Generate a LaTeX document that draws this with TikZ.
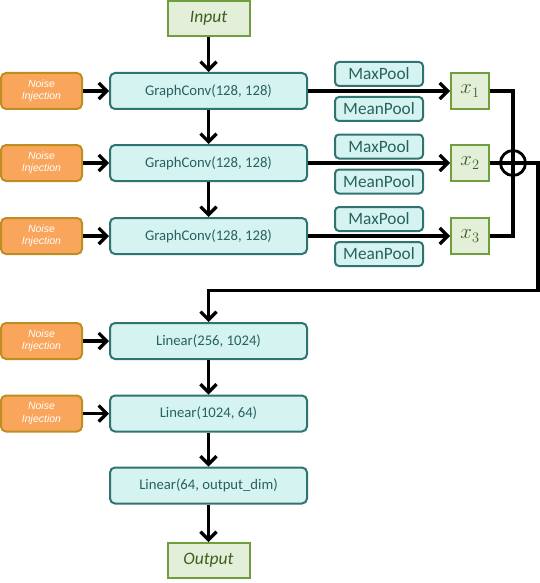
\documentclass[tikz,border=0pt]{standalone}
\usepackage{fontspec}
\setmainfont{Carlito}
\newfontfamily\noisefont{Liberation Sans}
\usetikzlibrary{arrows.meta}
\definecolor{tealfill}{HTML}{D5F3F1}
\definecolor{tealdraw}{HTML}{2F7470}
\definecolor{tealtext}{HTML}{27625E}
\definecolor{orfill}{HTML}{F9A55B}
\definecolor{ordraw}{HTML}{BF8E22}
\definecolor{grfill}{HTML}{E3EFD9}
\definecolor{grdraw}{HTML}{6E9F3C}
\definecolor{grtext}{HTML}{3E5F22}
\begin{document}
\begin{tikzpicture}[x=1pt,y=-1pt,
 layer/.style={draw=tealdraw, fill=tealfill, line width=2pt, rounded corners=5pt, minimum width=197pt, minimum height=36pt, inner sep=0pt, text=tealtext, font=\fontsize{14.7}{16}\selectfont},
 pool/.style={draw=tealdraw, fill=tealfill, line width=2pt, rounded corners=4pt, minimum width=88pt, minimum height=24pt, inner sep=0pt, text=tealtext, font=\fontsize{17.3}{19}\selectfont},
 noise/.style={draw=ordraw, fill=orfill, line width=2pt, rounded corners=5pt, minimum width=81pt, minimum height=36pt, inner sep=0pt, text=white, align=center, font=\noisefont\itshape\fontsize{10.5}{12.5}\selectfont},
 io/.style={draw=grdraw, fill=grfill, line width=2pt, minimum width=82pt, minimum height=35pt, inner sep=0pt, text=grtext, font=\itshape\fontsize{17.5}{19}\selectfont},
 xbox/.style={draw=grdraw, fill=grfill, line width=2pt, minimum width=38pt, minimum height=36pt, inner sep=0pt, text=grtext, font=\fontsize{20}{22}\selectfont},
 conn/.style={line width=3.3pt, black},
 arr/.style={conn, -{Straight Barb[length=8pt,width=16pt]}},
]
\useasboundingbox (0,0) rectangle (540,583);

\node[io] (in) at (208.5,18.5) {Input};
\node[layer] (gc1) at (208.5,91) {GraphConv(128, 128)};
\node[layer] (gc2) at (208.5,163) {GraphConv(128, 128)};
\node[layer] (gc3) at (208.5,236) {GraphConv(128, 128)};
\node[layer] (lin1) at (208.5,341) {Linear(256, 1024)};
\node[layer] (lin2) at (208.5,413.5) {Linear(1024, 64)};
\node[layer] (lin3) at (208.5,485.5) {Linear(64, output\_dim)};
\node[io] (out) at (208.5,560.5) {Output};

\node[noise] (n1) at (41.5,91) {Noise\\Injection};
\node[noise] (n2) at (41.5,163) {Noise\\Injection};
\node[noise] (n3) at (41.5,236) {Noise\\Injection};
\node[noise] (n4) at (41.5,341) {Noise\\Injection};
\node[noise] (n5) at (41.5,413.5) {Noise\\Injection};

\node[pool] (max1) at (379,74) {MaxPool};
\node[pool] (mean1) at (379,109) {MeanPool};
\node[pool] (max2) at (379,146.5) {MaxPool};
\node[pool] (mean2) at (379,181.5) {MeanPool};
\node[pool] (max3) at (379,219) {MaxPool};
\node[pool] (mean3) at (379,254) {MeanPool};

\node[xbox] (x1) at (470,91) {$x_1$};
\node[xbox] (x2) at (470,163) {$x_2$};
\node[xbox] (x3) at (470,236) {$x_3$};

\coordinate (sumc) at (513,163);
\coordinate (c1) at (538,290.5);
\coordinate (c2) at (208.5,290.5);

\draw[arr] (in) -- (gc1);
\draw[arr] (gc1) -- (gc2);
\draw[arr] (gc2) -- (gc3);
\draw[arr] (lin1) -- (lin2);
\draw[arr] (lin2) -- (lin3);
\draw[arr] (lin3) -- (out);
\foreach \a/\b in {n1/gc1,n2/gc2,n3/gc3,n4/lin1,n5/lin2}
  \draw[arr] (\a) -- (\b);

\draw[arr] (gc1) -- (x1);
\draw[arr] (gc2) -- (x2);
\draw[arr] (gc3) -- (x3);
\draw[conn] (x1.east) -| (sumc) |- (x3.east);
\draw[conn] (x2.east) -- (sumc);
\draw[arr] (sumc) -| (c1) -- (c2) -- (lin1.north);
\node[circle, draw, line width=2.8pt, minimum size=25pt, inner sep=0pt] (sum) at (sumc) {};
\end{tikzpicture}
\end{document}
